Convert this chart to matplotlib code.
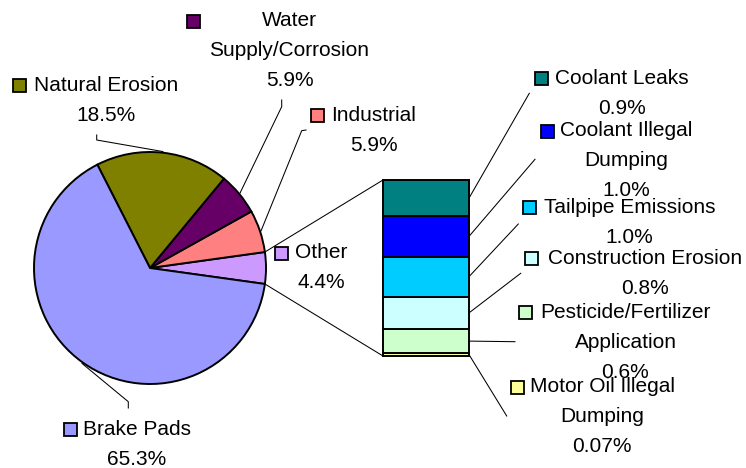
import matplotlib
matplotlib.use("Agg")
import matplotlib.pyplot as plt
from matplotlib.patches import Rectangle
import numpy as np

# pie slices, counter-clockwise starting from the "Other" slice
pie_labels = ["Other", "Industrial", "Water\nSupply/Corrosion", "Natural Erosion", "Brake Pads"]
pie_values = [4.4, 5.9, 5.9, 18.5, 65.3]
pie_colors = ["#CC99FF", "#FF8080", "#660066", "#808000", "#9999FF"]

# breakdown of "Other", bottom to top
bar_labels = ["Motor Oil Illegal\nDumping", "Pesticide/Fertilizer\nApplication",
              "Construction Erosion", "Tailpipe Emissions",
              "Coolant Illegal\nDumping", "Coolant Leaks"]
bar_values = [0.07, 0.6, 0.8, 1.0, 1.0, 0.9]
bar_colors = ["#FFFF99", "#CCFFCC", "#CCFFFF", "#00CCFF", "#0000FF", "#008080"]

# label layout in pixels (y from top): block centre x, first baseline, key x, leader pts
pie_layout = [
    (321, 258.5, 281.3, []),
    (374, 121, 317.5, [(306, 130), (301.7, 130.7)]),
    (289.5, 26.5, 193.5, [(281.7, 100), (281.7, 106.7)]),
    (106, 91, 19.7, [(96.7, 135), (96.7, 140)]),
    (137, 435, 70, [(128.3, 408), (128.3, 401.7)]),
]
bar_layout = [
    (602, 392.5, 517.5, (506.7, 416)),
    (625.5, 318, 525.8, (515, 341.7)),
    (644.8, 264, 531.8, (520.7, 273.3)),
    (629.5, 213, 529.8, (518.3, 224)),
    (626, 136.5, 547.5, (535, 159.3)),
    (622, 84, 541.8, (529.3, 93.3)),
]

W, H = 746, 468
FONT = "Liberation Sans"
FS = 15
STEP = 30


def Y(y):
    return H - y


def pct(v):
    return f"{v:.2f}%" if v < 0.1 else f"{v:.1f}%"


def label(text, value, color, cx, base, kx):
    lines = text.split("\n") + [pct(value)]
    for i, line in enumerate(lines):
        ax.text(cx, Y(base + i * STEP), line, ha="center", va="baseline",
                fontsize=FS, family=FONT, color="black")
    ax.add_patch(Rectangle((kx - 6.5, Y(base - 5.5) - 6.5), 13, 13,
                           facecolor=color, edgecolor="black", lw=1.3, zorder=3))


fig = plt.figure(figsize=(W / 100, H / 100), dpi=100)
ax = fig.add_axes([0, 0, 1, 1])

cx, cy, r = 150, Y(268), 116
start = -pie_values[0] * 3.6 / 2
ax.pie(pie_values, colors=pie_colors, startangle=start, counterclock=True,
       center=(cx, cy), radius=r,
       wedgeprops=dict(edgecolor="black", linewidth=1.4))

bx, bw = 426, 86
bar_bottom = Y(356)
scale = 176 / sum(bar_values)
heights = np.array(bar_values) * scale
bottoms = bar_bottom + np.concatenate([[0], np.cumsum(heights)[:-1]])
ax.bar(bx, heights, width=bw, bottom=bottoms, color=bar_colors,
       edgecolor="black", linewidth=1.4)

# connectors pie -> bar
a0 = np.deg2rad(start)
a1 = np.deg2rad(start + pie_values[0] * 3.6)
ax.plot([cx + r * np.cos(a1), bx - bw / 2], [cy + r * np.sin(a1), bottoms[-1] + heights[-1]],
        color="black", lw=0.75)
ax.plot([cx + r * np.cos(a0), bx - bw / 2], [cy + r * np.sin(a0), bar_bottom],
        color="black", lw=0.75)

# pie labels + leaders
cum = start
for lab, v, c, (lx, lb, kx, pts) in zip(pie_labels, pie_values, pie_colors, pie_layout):
    mid = np.deg2rad(cum + v * 3.6 / 2)
    cum += v * 3.6
    label(lab, v, c, lx, lb, kx)
    if pts:
        xs = [p[0] for p in pts] + [cx + r * 1.01 * np.cos(mid)]
        ys = [Y(p[1]) for p in pts] + [cy + r * 1.01 * np.sin(mid)]
        ax.plot(xs, ys, color="black", lw=0.75)

# bar labels + leaders
for lab, v, c, h, b, (lx, lb, kx, p) in zip(bar_labels, bar_values, bar_colors,
                                            heights, bottoms, bar_layout):
    label(lab, v, c, lx, lb, kx)
    ax.plot([bx + bw / 2, p[0]], [b + h / 2, Y(p[1])], color="black", lw=0.75)

ax.set_xlim(0, W)
ax.set_ylim(0, H)
ax.set_aspect("equal")
ax.axis("off")

fig.savefig("out.png", dpi=100, facecolor="white")
